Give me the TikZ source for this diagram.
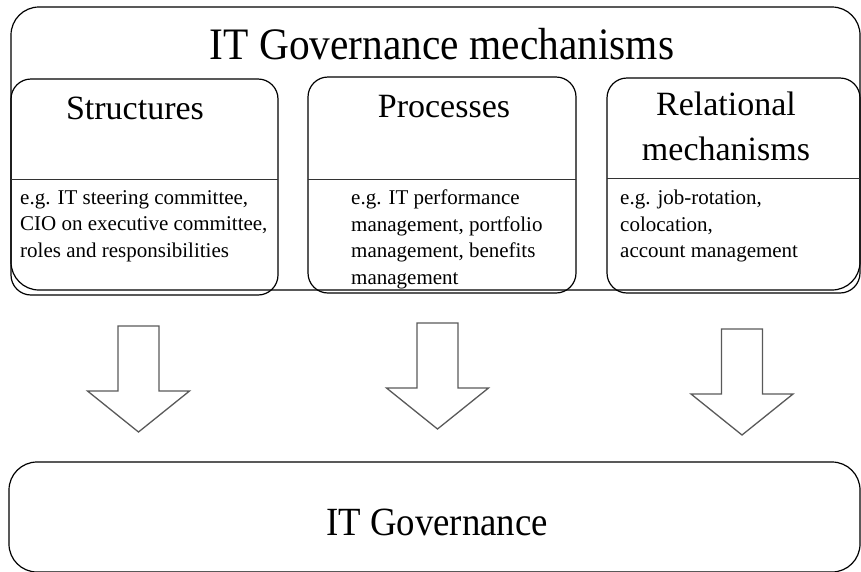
\documentclass[tikz,border=0pt]{standalone}
\usepackage{fontspec}
\setmainfont{Liberation Serif}
\newfontfamily\titlefont[FakeStretch=0.92]{Liberation Serif}
\begin{document}
\begin{tikzpicture}[x=1pt,y=-1pt,
  boxline/.style={draw=black,line width=1.2pt},
  outerbox/.style={boxline,rounded corners=28pt,inner sep=0pt,fill=none},
  innerbox/.style={boxline,rounded corners=20pt,inner sep=0pt,fill=none},
  sepline/.style={draw=black!80,line width=0.8pt},
  arrowline/.style={draw=black!65,line width=1.3pt,line join=miter},
  titletext/.style={font=\titlefont\fontsize{45}{50}\selectfont,inner sep=0pt,anchor=base},
  headtext/.style={font=\fontsize{34}{45}\selectfont,inner sep=0pt,align=center},
  bodytext/.style={font=\fontsize{21}{26.5}\selectfont,inner sep=0pt,align=left,anchor=north west},
  blockarrow/.pic={\draw[arrowline] (-20.5,0) -- (20.5,0) -- (20.5,65) -- (51,65) -- (0,106) -- (-51,65) -- (-20.5,65) -- cycle;}
]
\useasboundingbox (0,0) rectangle (861,571);
% outer box
\node[outerbox,minimum width=849pt,minimum height=283pt] (outer) at (435.5,148.5) {};
\node[titletext] (title) at (442,59) {IT Governance mechanisms};
% inner boxes
\node[innerbox,minimum width=267pt,minimum height=216pt] (struct) at (144.5,187) {};
\node[innerbox,minimum width=268pt,minimum height=216pt] (proc) at (442,185) {};
\node[innerbox,minimum width=253pt,minimum height=215pt] (rel) at (733.5,185.5) {};
% separators
\coordinate (s1) at (11,179); \coordinate (s2) at (278,179);
\coordinate (p1) at (308,179); \coordinate (p2) at (576,179);
\coordinate (r1) at (607,178); \coordinate (r2) at (860,178);
\draw[sepline] (s1) -- (s2);
\draw[sepline] (p1) -- (p2);
\draw[sepline] (r1) -- (r2);
% headings
\node[headtext,anchor=base] (structhead) at (135,119) {Structures};
\node[headtext,anchor=base] (prochead) at (444,117) {Processes};
\node[headtext,anchor=north] (relhead) at (726,92) {Relational\\mechanisms};
% bodies
\node[bodytext] (structbody) at (20,190) {e.g. IT steering committee,\\CIO on executive committee,\\roles and responsibilities};
\node[bodytext] (procbody) at (351,190) {e.g. IT performance\\management, portfolio\\management, benefits\\management};
\node[bodytext] (relbody) at (620,190) {e.g. job-rotation,\\colocation,\\account management};
% arrows
\pic at (138.5,326) {blockarrow};
\pic at (437.5,323) {blockarrow};
\pic at (742,329) {blockarrow};
% bottom box
\node[outerbox,minimum width=851pt,minimum height=110pt] (gov) at (434.5,517) {};
\node[titletext,font=\titlefont\fontsize{40}{46}\selectfont] (govtext) at (437,535) {IT Governance};
\end{tikzpicture}
\end{document}
